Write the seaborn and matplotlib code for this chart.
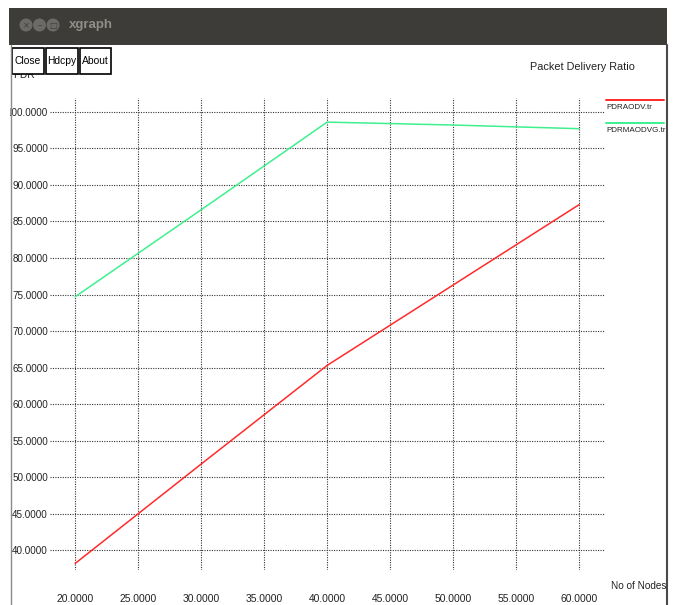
import matplotlib
matplotlib.use("Agg")
import matplotlib.pyplot as plt
from matplotlib.patches import Rectangle, Ellipse
from matplotlib.lines import Line2D
import seaborn as sns
import pandas as pd

# Packet delivery ratio against node count for two routing protocols
nodes = [20, 30, 40, 50, 60]
pdr_aodv = [38.2, 51.8, 65.3, 76.3, 87.3]
pdr_maodvg = [74.7, 86.6, 98.6, 98.2, 97.7]
series_names = ["PDRAODV.tr", "PDRMAODVG.tr"]
x_ticks = [20, 25, 30, 35, 40, 45, 50, 55, 60]
y_ticks = [40, 45, 50, 55, 60, 65, 70, 75, 80, 85, 90, 95, 100]

colors = {"PDRAODV.tr": "#ff2a2a", "PDRMAODVG.tr": "#3ef08e"}

df = pd.DataFrame({
    "nodes": nodes * 2,
    "pdr": pdr_aodv + pdr_maodvg,
    "series": [series_names[0]] * len(nodes) + [series_names[1]] * len(nodes),
})

sns.set_style("white")
FONT = ["Liberation Sans", "DejaVu Sans"]
plt.rcParams["font.family"] = FONT
TXT = "#222222"

W, H = 676, 605
fig = plt.figure(figsize=(W / 100, H / 100), dpi=100)


def fx(x):
    return x / W


def fy(y):
    return 1 - y / H


# plotting area in window pixels
left, right, top, bottom = 50, 605, 98, 570
ax = fig.add_axes([fx(left), fy(bottom), fx(right - left), (bottom - top) / H])

sns.lineplot(data=df, x="nodes", y="pdr", hue="series", palette=colors,
             linewidth=1.1, legend=False, ax=ax, zorder=3)

ax.set_xlim(18.0, 62.06)
ax.set_ylim(37.3, 101.9)
ax.set_xticks(x_ticks)
ax.set_yticks(y_ticks)
ax.set_xticklabels([f"{v:.4f}" for v in x_ticks], fontsize=7.4)
ax.set_yticklabels([f"{v:.4f}" for v in y_ticks], fontsize=7.1)
ax.tick_params(axis="both", length=0, colors=TXT)
ax.tick_params(axis="x", pad=17)
ax.tick_params(axis="y", pad=1.5)
ax.set_xlabel("")
ax.set_ylabel("")
for s in ax.spines.values():
    s.set_visible(False)
ax.grid(True, color="#333333", linestyle=(0, (1, 1.2)), linewidth=0.8)
ax.set_axisbelow(True)

# window chrome: title bar and borders
fig.add_artist(Rectangle((fx(9), fy(45)), fx(667 - 9), (45 - 8) / H,
                         transform=fig.transFigure, facecolor="#3d3c38",
                         edgecolor="none", zorder=5))
fig.add_artist(Rectangle((0, 0), fx(10), fy(45), transform=fig.transFigure,
                         facecolor="white", edgecolor="none", zorder=5))
fig.add_artist(Line2D([fx(10.5), fx(10.5)], [0, fy(45)], transform=fig.transFigure,
                      color="#8a8a8a", linewidth=1.0, zorder=6))
fig.add_artist(Line2D([fx(667), fx(667)], [0, fy(45)], transform=fig.transFigure,
                      color="#4a4a48", linewidth=1.5, zorder=6))
for cx, sym in [(26, "×"), (39.5, "–"), (53, "□")]:
    fig.add_artist(Ellipse((fx(cx), fy(25)), 13 / W, 13 / H, transform=fig.transFigure,
                           facecolor="#6b6a66", edgecolor="none", zorder=6))
    fig.text(fx(cx), fy(25.5), sym, ha="center", va="center", fontsize=6,
             color="#3d3c38", zorder=7, family=["DejaVu Sans"])
fig.text(fx(69), fy(25), "xgraph", ha="left", va="center", fontsize=9.5,
         fontweight="bold", color="#8f8e89", zorder=7)

# y axis title, partly hidden by the buttons
fig.text(fx(13), fy(70), "PDR", ha="left", va="top", fontsize=7.4,
         color=TXT, zorder=4)

# buttons
for x0, x1, label in [(12, 44, "Close"), (46, 78, "Hdcpy"), (80, 111, "About")]:
    fig.add_artist(Rectangle((fx(x0), fy(74)), fx(x1 - x0), (74 - 48) / H,
                             transform=fig.transFigure, facecolor="white",
                             edgecolor="black", linewidth=1.2, zorder=5))
    fig.text(fx((x0 + x1) / 2), fy(61), label, ha="center", va="center",
             fontsize=7.4, color="black", zorder=6)

fig.text(fx(530), fy(67), "Packet Delivery Ratio", ha="left", va="center",
         fontsize=7.8, color=TXT)
fig.text(fx(611), fy(586), "No of Nodes", ha="left", va="center",
         fontsize=7.2, color=TXT)

# legend
for i, name in enumerate(series_names):
    ly = 100 + 23 * i
    fig.add_artist(Line2D([fx(606), fx(664)], [fy(ly), fy(ly)],
                          transform=fig.transFigure, color=colors[name],
                          linewidth=1.4))
    fig.text(fx(606), fy(ly + 8), name, ha="left", va="center",
             fontsize=5.8, color=TXT)

fig.savefig("out.png", dpi=100, facecolor="white")
